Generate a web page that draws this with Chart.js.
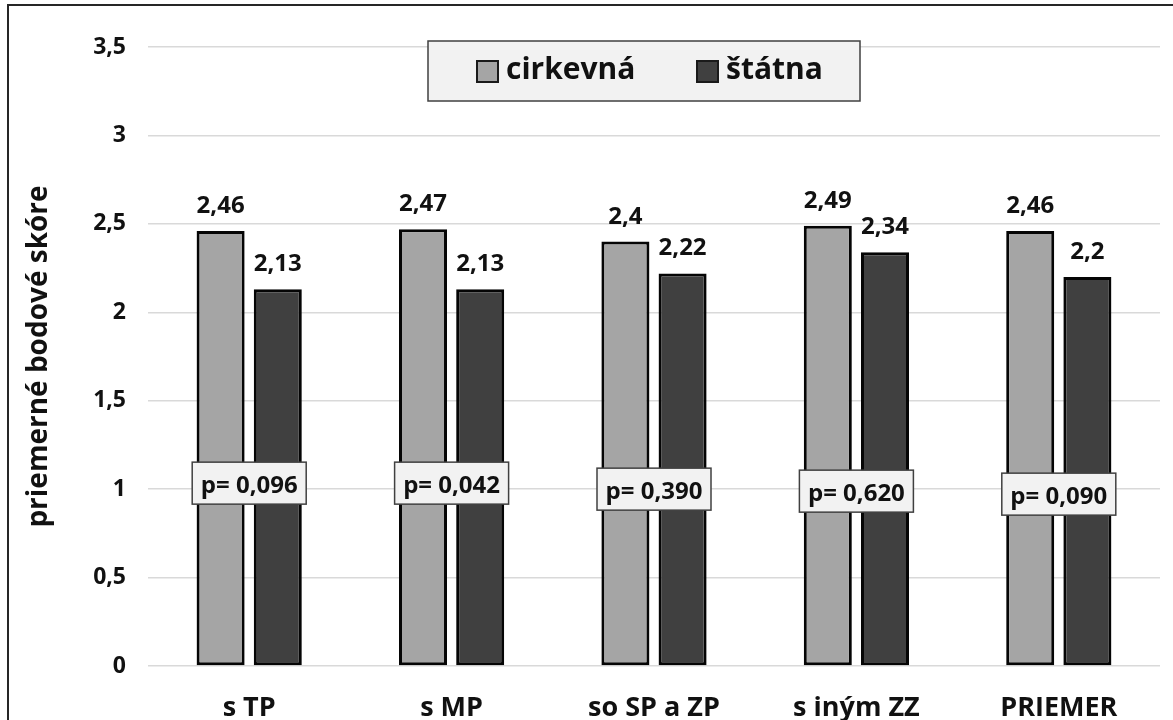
<!DOCTYPE html>
<html>
<head>
<meta charset="utf-8">
<script src="https://cdn.jsdelivr.net/npm/chart.js@4.4.1/dist/chart.umd.min.js"></script>
<style>
  html, body { margin: 0; padding: 0; background: #ffffff; }
  #wrap { width: 1173px; height: 720px; }
</style>
</head>
<body>
<div id="wrap"><canvas id="chart" width="1173" height="720"></canvas></div>
<script>
// Skupiny a priemerné bodové skóre
const categories = ['s TP', 's MP', 'so SP a ZP', 's iným ZZ', 'PRIEMER'];
const seriesNames = ['cirkevná', 'štátna'];
const cirkevna = [2.46, 2.47, 2.4, 2.49, 2.46];
const statna = [2.13, 2.13, 2.22, 2.34, 2.2];
const pValues = ['0,096', '0,042', '0,390', '0,620', '0,090'];
const yMin = 0, yMax = 3.5, yStep = 0.5;
const yTitle = 'priemerné bodové skóre';

const FONT = '"Open Sans", "DejaVu Sans", sans-serif';
const COLORS = ['#a5a5a5', '#404040'];
const EDGE = '#050505';

const fmt = v => String(v).replace('.', ',');

// outer frame of the figure
const framePlugin = {
  id: 'frame',
  beforeDraw(chart) {
    const ctx = chart.ctx;
    ctx.save();
    ctx.fillStyle = '#ffffff';
    ctx.fillRect(0, 0, chart.width, chart.height);
    ctx.strokeStyle = '#262626';
    ctx.lineWidth = 2;
    ctx.beginPath();
    ctx.moveTo(8, chart.height);
    ctx.lineTo(8, 5);
    ctx.lineTo(chart.width, 5);
    ctx.stroke();
    ctx.restore();
  }
};

// value labels above each bar
const valueLabelPlugin = {
  id: 'valueLabels',
  afterDatasetsDraw(chart) {
    const ctx = chart.ctx;
    ctx.save();
    ctx.font = 'bold 24px ' + FONT;
    ctx.fillStyle = '#111111';
    ctx.textAlign = 'center';
    ctx.textBaseline = 'alphabetic';
    chart.data.datasets.forEach((ds, di) => {
      const meta = chart.getDatasetMeta(di);
      meta.data.forEach((bar, i) => {
        ctx.fillText(fmt(ds.data[i]), bar.x, bar.y - 18);
      });
    });
    ctx.restore();
  }
};

// p-value boxes placed over each category around score 1
const pBoxPlugin = {
  id: 'pBoxes',
  afterDatasetsDraw(chart) {
    const ctx = chart.ctx;
    const xs = chart.scales.x, ys = chart.scales.y;
    const w = 114, h = 42;
    const shift = [-6, -6, 0, 2, 5];
    ctx.save();
    ctx.font = 'bold 24px ' + FONT;
    ctx.textAlign = 'center';
    ctx.textBaseline = 'middle';
    pValues.forEach((p, i) => {
      const cx = xs.getPixelForValue(i);
      const cy = ys.getPixelForValue(1) + shift[i];
      ctx.fillStyle = '#f2f2f2';
      ctx.fillRect(cx - w / 2, cy - h / 2, w, h);
      ctx.strokeStyle = '#404040';
      ctx.lineWidth = 1.5;
      ctx.strokeRect(cx - w / 2, cy - h / 2, w, h);
      ctx.fillStyle = '#111111';
      ctx.fillText('p= ' + p, cx, cy + 3);
    });
    ctx.restore();
  }
};

// boxed legend at the top of the plot
const legendBoxPlugin = {
  id: 'legendBox',
  afterDraw(chart) {
    const ctx = chart.ctx;
    const bx = 428, by = 41, bw = 432, bh = 60;
    ctx.save();
    ctx.fillStyle = '#f2f2f2';
    ctx.fillRect(bx, by, bw, bh);
    ctx.strokeStyle = '#404040';
    ctx.lineWidth = 1.5;
    ctx.strokeRect(bx, by, bw, bh);
    ctx.font = 'bold 30px ' + FONT;
    ctx.textBaseline = 'middle';
    ctx.textAlign = 'left';
    const items = [{ x: 477 }, { x: 697 }];
    seriesNames.forEach((name, i) => {
      const mx = items[i].x, my = by + bh / 2 - 10, ms = 21;
      ctx.fillStyle = COLORS[i];
      ctx.fillRect(mx, my, ms, ms);
      ctx.strokeStyle = '#1a1a1a';
      ctx.lineWidth = 2;
      ctx.strokeRect(mx, my, ms, ms);
      ctx.fillStyle = '#111111';
      ctx.fillText(name, mx + ms + 8, by + bh / 2 - 1);
    });
    ctx.restore();
  }
};

new Chart(document.getElementById('chart'), {
  type: 'bar',
  data: {
    labels: categories,
    datasets: [
      { label: seriesNames[0], data: cirkevna, backgroundColor: COLORS[0] },
      { label: seriesNames[1], data: statna, backgroundColor: COLORS[1] }
    ]
  },
  options: {
    responsive: false,
    devicePixelRatio: 1,
    animation: false,
    layout: { padding: { left: 0, top: 47, right: 13, bottom: 0 } },
    datasets: {
      bar: {
        categoryPercentage: 0.565,
        barPercentage: 0.84,
        borderWidth: 3,
        borderColor: EDGE,
        borderSkipped: false
      }
    },
    plugins: {
      legend: { display: false },
      tooltip: { enabled: false }
    },
    scales: {
      x: {
        grid: { display: false },
        border: { display: false },
        ticks: {
          font: { family: FONT, size: 27, weight: 'bold' },
          color: '#111111',
          padding: 18
        },
        afterFit(s) { s.height = 54; }
      },
      y: {
        min: yMin,
        max: yMax,
        grid: { color: '#d9d9d9', lineWidth: 1.5, drawTicks: false },
        border: { display: false },
        ticks: {
          stepSize: yStep,
          font: { family: FONT, size: 23, weight: 'bold' },
          color: '#111111',
          padding: 22,
          callback: v => fmt(v)
        },
        title: {
          display: true,
          text: yTitle,
          font: { family: FONT, size: 28, weight: 'bold' },
          color: '#111111',
          padding: { top: 22, bottom: 0 }
        },
        afterFit(s) { s.width = 148; }
      }
    }
  },
  plugins: [framePlugin, valueLabelPlugin, pBoxPlugin, legendBoxPlugin]
});
</script>
</body>
</html>
